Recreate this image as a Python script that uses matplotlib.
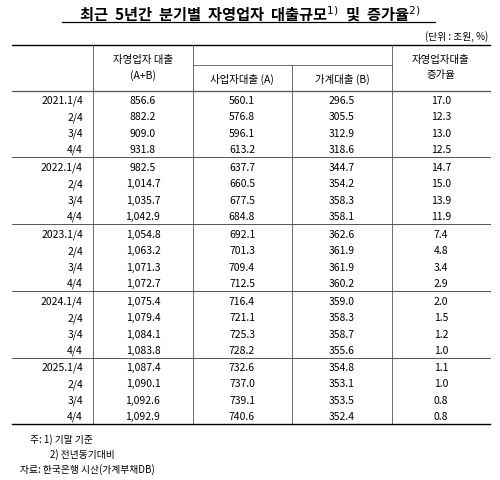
import matplotlib
matplotlib.use('Agg')
import matplotlib.pyplot as plt

plt.rcParams['font.family'] = ['Noto Sans CJK KR', 'DejaVu Sans']

quarters = ['2021.1/4', '2/4', '3/4', '4/4',
            '2022.1/4', '2/4', '3/4', '4/4',
            '2023.1/4', '2/4', '3/4', '4/4',
            '2024.1/4', '2/4', '3/4', '4/4',
            '2025.1/4', '2/4', '3/4', '4/4']
total = ['856.6', '882.2', '909.0', '931.8',
         '982.5', '1,014.7', '1,035.7', '1,042.9',
         '1,054.8', '1,063.2', '1,071.3', '1,072.7',
         '1,075.4', '1,079.4', '1,084.1', '1,083.8',
         '1,087.4', '1,090.1', '1,092.6', '1,092.9']
biz = ['560.1', '576.8', '596.1', '613.2',
       '637.7', '660.5', '677.5', '684.8',
       '692.1', '701.3', '709.4', '712.5',
       '716.4', '721.1', '725.3', '728.2',
       '732.6', '737.0', '739.1', '740.6']
house = ['296.5', '305.5', '312.9', '318.6',
         '344.7', '354.2', '358.3', '358.1',
         '362.6', '361.9', '361.9', '360.2',
         '359.0', '358.3', '358.7', '355.6',
         '354.8', '353.1', '353.5', '352.4']
growth = ['17.0', '12.3', '13.0', '12.5',
          '14.7', '15.0', '13.9', '11.9',
          '7.4', '4.8', '3.4', '2.9',
          '2.0', '1.5', '1.2', '1.0',
          '1.1', '1.0', '0.8', '0.8']

W, H = 500, 481
fig = plt.figure(figsize=(5, 4.81), dpi=100)
ax = fig.add_axes([0, 0, 1, 1])
ax.set_xlim(0, W)
ax.set_ylim(H, 0)
ax.axis('off')

fs = 7.5
lc = '#555555'
ax.text(250, 14, '최근  5년간  분기별  자영업자  대출규모$^{1)}$  및  증가율$^{2)}$',
        ha='center', va='center', fontsize=11, fontweight='bold')
ax.plot([62, 435], [23, 23], color='black', lw=0.9)
ax.text(488, 37, '(단위 : 조원, %)', ha='right', va='center', fontsize=7)

x0, x1 = 12, 490
cols = [93, 193, 292, 392]
ax.plot([x0, x1], [46, 46], color='black', lw=1.0)
ax.plot([193, 392], [66, 66], color=lc, lw=0.6)
ax.plot([x0, x1], [92, 92], color=lc, lw=0.9)
for c in cols:
    top = 66 if c == 292 else 46
    ax.plot([c, c], [top, 424], color=lc, lw=0.6)

ax.text(143, 60, '자영업자 대출', ha='center', va='center', fontsize=fs)
ax.text(143, 76, '(A+B)', ha='center', va='center', fontsize=fs)
ax.text(242, 79, '사업자대출 (A)', ha='center', va='center', fontsize=fs)
ax.text(342, 79, '가계대출 (B)', ha='center', va='center', fontsize=fs)
ax.text(441, 60, '자영업자대출', ha='center', va='center', fontsize=fs)
ax.text(441, 75, '증가율', ha='center', va='center', fontsize=fs)

starts = [101, 168, 235, 302, 368]
for g in range(5):
    for k in range(4):
        i = g * 4 + k
        y = starts[g] + k * 16.3
        ax.text(83, y, quarters[i], ha='right', va='center', fontsize=fs)
        ax.text(143, y, total[i], ha='center', va='center', fontsize=fs)
        ax.text(242, y, biz[i], ha='center', va='center', fontsize=fs)
        ax.text(342, y, house[i], ha='center', va='center', fontsize=fs)
        ax.text(441, y, growth[i], ha='center', va='center', fontsize=fs)
    yl = starts[g] + 3 * 16.3 + 8.5
    ax.plot([x0, x1], [yl, yl], color=lc if g < 4 else 'black', lw=0.7 if g < 4 else 1.0)

ax.text(30, 440, '주: 1) 기말 기준', ha='left', va='center', fontsize=7)
ax.text(50, 455, '2) 전년동기대비', ha='left', va='center', fontsize=7)
ax.text(20, 470, '자료: 한국은행 시산(가계부채DB)', ha='left', va='center', fontsize=7)

fig.savefig('out.png', dpi=100)
